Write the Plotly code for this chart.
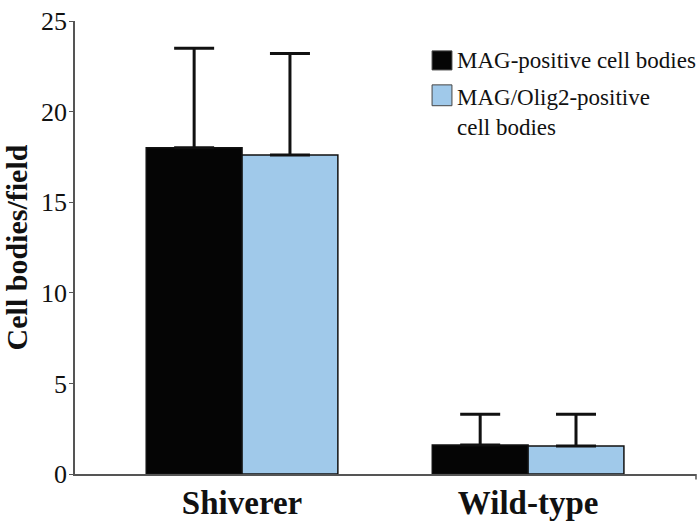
import plotly.graph_objects as go

categories = ["Shiverer", "Wild-type"]
series_names = ["MAG-positive cell bodies", "MAG/Olig2-positive<br>cell bodies"]
mag_values = [18.0, 1.6]
mag_errors = [5.5, 1.7]
olig_values = [17.6, 1.55]
olig_errors = [5.6, 1.75]
y_ticks = [0, 5, 10, 15, 20, 25]

colors = ["#050505", "#a0c9ea"]
FONT = "Liberation Serif, Times New Roman, serif"

fig = go.Figure()
for name, vals, errs, col in [(series_names[0], mag_values, mag_errors, colors[0]),
                              (series_names[1], olig_values, olig_errors, colors[1])]:
    fig.add_trace(go.Bar(
        x=categories, y=vals, name=name,
        marker=dict(color=col, line=dict(color="#111111", width=1.5)),
        error_y=dict(type="data", symmetric=False, array=errs,
                     arrayminus=[0] * len(errs), color="#111111",
                     thickness=3, width=20),
        showlegend=False,
    ))

fig.update_layout(
    width=698, height=523,
    margin=dict(l=75, r=2, t=21, b=47),
    barmode="group", bargap=0.33, bargroupgap=0,
    plot_bgcolor="white", paper_bgcolor="white",
    font=dict(family=FONT, color="#111111"),
    xaxis=dict(range=[-0.584, 1.587], showline=True, linecolor="#555555",
               linewidth=1.5, ticks="", showgrid=False, zeroline=False,
               tickfont=dict(family=FONT, size=33, color="#111111", weight="bold"),
               ticklabelstandoff=-1),
    yaxis=dict(range=[0, 25], tickvals=y_ticks, showline=True,
               linecolor="#555555", linewidth=1.5, ticks="outside",
               ticklen=4, tickcolor="#555555", showgrid=False, zeroline=False,
               tickfont=dict(family=FONT, size=26, color="#111111"),
               ticklabelstandoff=-3,
               title=dict(text="<b>Cell bodies/field</b>",
                          font=dict(family=FONT, size=30, color="#111111"),
                          standoff=10)),
)

# right-end tick of x axis
fig.add_shape(type="line", xref="paper", yref="paper", x0=1, x1=1,
              y0=0, y1=-0.012, line=dict(color="#555555", width=1.5))

# custom legend
legend_items = [
    (series_names[0], colors[0], 0.575, 0.607, 0.892, 0.934, 0.913),
    (series_names[1], colors[1], 0.575, 0.607, 0.813, 0.859, 0.798),
]
for text, col, x0, x1, y0, y1, ty in legend_items:
    fig.add_shape(type="rect", xref="paper", yref="paper",
                  x0=x0, x1=x1, y0=y0, y1=y1,
                  fillcolor=col, line=dict(color="#444444", width=1))
    fig.add_annotation(xref="paper", yref="paper", x=0.612, y=ty,
                       text=text, showarrow=False, xanchor="left",
                       yanchor="middle", align="left",
                       font=dict(family=FONT, size=23, color="#111111"))

fig.write_html("out.html", config={"displayModeBar": False},
               post_script="document.body.style.margin='0';")
